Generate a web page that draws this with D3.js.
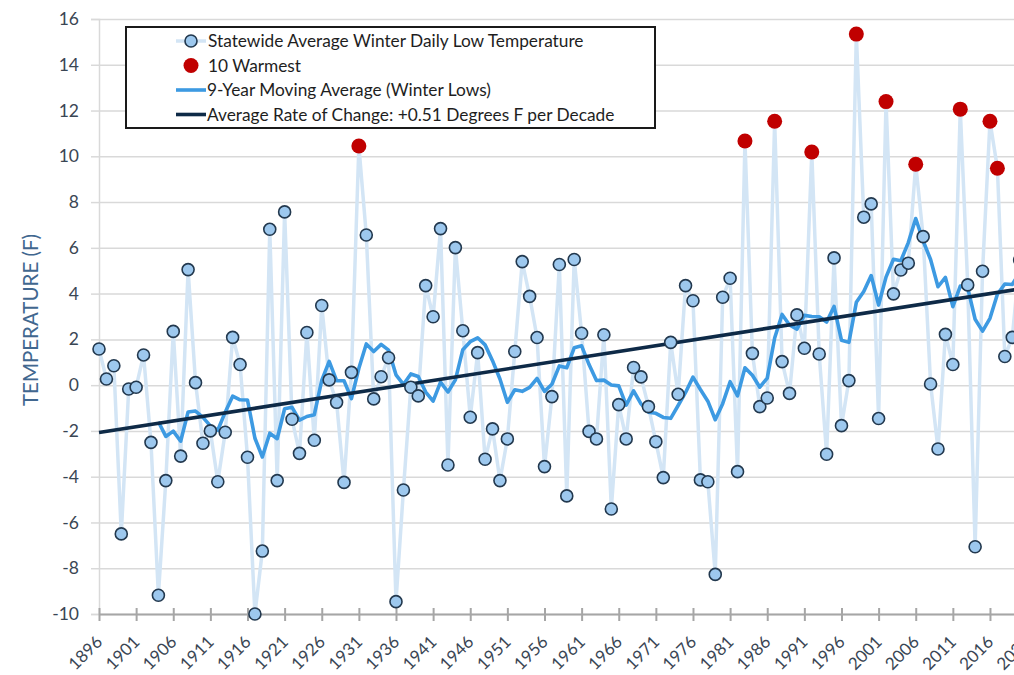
<!DOCTYPE html>
<html>
<head>
<meta charset="utf-8">
<script src="https://cdn.jsdelivr.net/npm/d3@7"></script>
<style>
  body { margin: 0; background: #fff; }
  svg { display: block; font-family: Lato, "Open Sans", sans-serif; }
</style>
</head>
<body>
<svg id="chart" width="1014" height="675"></svg>
<script>
// Winter seasons shown on the category axis
const firstYear = 1896;
const lastYear = 2020;
const years = d3.range(firstYear, lastYear + 1);

// Statewide average winter daily low temperature (°F), 1896–2020
const lowTemps = [
  1.58, 0.27, 0.85, -6.5, -0.17, -0.09, 1.32, -2.5, -9.18, -4.17,
  2.35, -3.1, 5.05, 0.11, -2.54, -2.0, -4.22, -2.06, 2.09, 0.9,
  -3.15, -10.0, -7.25, 6.81, -4.17, 7.57, -1.49, -2.98, 2.3, -2.41,
  3.48, 0.23, -0.75, -4.25, 0.56, 10.45, 6.56, -0.6, 0.37, 1.2,
  -9.46, -4.58, -0.09, -0.47, 4.35, 2.99, 6.84, -3.49, 6.01, 2.38,
  -1.4, 1.42, -3.24, -1.91, -4.17, -2.35, 1.47, 5.4, 3.88, 2.08,
  -3.56, -0.5, 5.27, -4.84, 5.49, 2.27, -2.02, -2.35, 2.2, -5.41,
  -0.85, -2.35, 0.77, 0.36, -0.94, -2.47, -4.04, 1.87, -0.4, 4.35,
  3.69, -4.14, -4.22, -8.27, 3.84, 4.67, -3.78, 10.67, 1.39, -0.94,
  -0.56, 11.53, 1.03, -0.36, 3.07, 1.61, 10.19, 1.36, -3.02, 5.56,
  -1.77, 0.2, 15.34, 7.34, 7.92, -1.46, 12.39, 3.99, 5.03, 5.33,
  9.65, 6.49, 0.05, -2.79, 2.22, 0.9, 12.06, 4.38, -7.06, 4.98,
  11.53, 9.48, 1.25, 2.09, 5.47
];

// 9-year moving average (winter lows), first plotted in 1904
const maStartYear = 1904;
const movingAvg = [
  -1.60, -2.24, -2.01, -2.45, -1.17, -1.13, -1.41, -1.78, -1.97, -1.18,
  -0.48, -0.64, -0.65, -2.32, -3.14, -2.10, -2.34, -1.03, -0.97, -1.53,
  -1.37, -1.29, 0.21, 1.04, 0.20, 0.19, -0.59, 0.74, 1.80, 1.47,
  1.78, 1.53, 0.45, 0.03, 0.49, 0.38, -0.30, -0.70, 0.13, -0.30,
  0.23, 1.55, 1.90, 2.07, 1.76, 1.07, 0.27, -0.75, -0.20, -0.27,
  -0.10, 0.29, -0.27, 0.04, 0.84, 0.76, 1.63, 1.72, 0.90, 0.20,
  0.22, 0.01, -0.03, -0.87, -0.25, -0.82, -1.18, -1.23, -1.41, -1.45,
  -0.89, -0.32, 0.35, -0.19, -0.70, -1.51, -0.81, 0.15, -0.47, 0.76,
  0.43, -0.09, 0.31, 2.06, 3.09, 2.63, 2.45, 3.05, 3.00, 2.99,
  2.76, 3.44, 1.96, 1.87, 3.62, 4.09, 4.79, 3.50, 4.72, 5.50,
  5.44, 6.23, 7.28, 6.30, 5.49, 4.30, 4.71, 3.43, 4.33, 4.25,
  2.88, 2.36, 2.92, 3.97, 4.42, 4.40, 4.91
];

// The ten warmest winters
const warmestYears = [1931, 1983, 1987, 1992, 1998, 2002, 2006, 2012, 2016, 2017];

// Linear trend: +0.51 °F per decade
const trendYears = [1896, 2020];
const trendValues = [-2.07, 4.2];

// Axis ticks
const yTicks = [-10, -8, -6, -4, -2, 0, 2, 4, 6, 8, 10, 12, 14, 16];
const xTickYears = [1896, 1901, 1906, 1911, 1916, 1921, 1926, 1931, 1936, 1941,
  1946, 1951, 1956, 1961, 1966, 1971, 1976, 1981, 1986, 1991, 1996, 2001,
  2006, 2011, 2016, 2021];

const legendLabels = [
  "Statewide Average Winter Daily Low Temperature",
  "10 Warmest",
  "9-Year Moving Average (Winter Lows)",
  "Average Rate of Change: +0.51 Degrees F per Decade"
];

const colors = {
  grid: "#d9d9d9",
  axis: "#a6a6a6",
  annual: "#d3e5f5",
  dotFill: "#9dc8ee",
  dotStroke: "#22384e",
  warm: "#c00000",
  avg: "#3d9ae2",
  trend: "#0e2a47",
  tickText: "#3a4654",
  axisTitle: "#41678f"
};

const svg = d3.select("#chart");

const x = d3.scaleLinear().domain([1896, 2021]).range([99, 1027.1]);
const y = d3.scaleLinear().domain([-10, 16]).range([614, 19]);

const plainNumber = d => String(d);

// Horizontal gridlines
svg.append("g")
  .attr("transform", `translate(${x(1896)},0)`)
  .call(d3.axisLeft(y).tickValues(yTicks).tickSize(-1000).tickFormat(""))
  .call(g => g.select(".domain").remove())
  .call(g => g.selectAll("line").attr("stroke", colors.grid).attr("stroke-width", 1.5));

// Left axis: short outward ticks + labels
svg.append("g")
  .attr("transform", `translate(${x(1896)},0)`)
  .call(d3.axisLeft(y).tickValues(yTicks).tickSize(8).tickPadding(12).tickFormat(plainNumber))
  .call(g => g.select(".domain").attr("stroke", colors.grid).attr("stroke-width", 1.5))
  .call(g => g.selectAll(".tick line").attr("stroke", colors.grid).attr("stroke-width", 1.5))
  .call(g => g.selectAll("text")
    .attr("fill", colors.tickText)
    .attr("font-size", 17.5)
    .attr("font-family", "Lato, sans-serif"));

// Bottom axis with rotated year labels
const xAxis = svg.append("g")
  .attr("transform", `translate(0,${y(-10)})`)
  .call(d3.axisBottom(x).tickValues(xTickYears).tickSize(0).tickFormat(plainNumber))
  .call(g => g.select(".domain").attr("stroke", colors.axis).attr("stroke-width", 2.2));
xAxis.selectAll(".tick line").remove();
xAxis.selectAll(".tick").append("line")
  .attr("y1", -6).attr("y2", 7)
  .attr("stroke", colors.axis).attr("stroke-width", 2);
xAxis.selectAll(".tick text")
  .attr("fill", colors.tickText)
  .attr("font-size", 17)
  .attr("font-family", "Lato, sans-serif")
  .attr("text-anchor", "end")
  .attr("dy", null)
  .attr("y", null)
  .attr("transform", "translate(4,29) rotate(-45)");

// Y axis title
svg.append("text")
  .attr("transform", `translate(37.5,320) rotate(-90)`)
  .attr("text-anchor", "middle")
  .attr("fill", colors.axisTitle)
  .attr("font-size", 20.5)
  .text("TEMPERATURE (F)");

const annual = years.map((yr, i) => ({ year: yr, value: lowTemps[i] }));
const avgPts = movingAvg.map((v, i) => ({ year: maStartYear + i, value: v }));
const trendPts = trendYears.map((yr, i) => ({ year: yr, value: trendValues[i] }));

const line = d3.line().x(d => x(d.year)).y(d => y(d.value));

// Annual series line
svg.append("path")
  .datum(annual)
  .attr("fill", "none")
  .attr("stroke", colors.annual)
  .attr("stroke-width", 3.5)
  .attr("stroke-linejoin", "round")
  .attr("d", line);

// Moving average
svg.append("path")
  .datum(avgPts)
  .attr("fill", "none")
  .attr("stroke", colors.avg)
  .attr("stroke-width", 3.6)
  .attr("stroke-linejoin", "round")
  .attr("d", line);

// Trend line
svg.append("path")
  .datum(trendPts)
  .attr("fill", "none")
  .attr("stroke", colors.trend)
  .attr("stroke-width", 3.6)
  .attr("d", line);

// Annual markers
svg.append("g")
  .selectAll("circle")
  .data(annual.filter(d => !warmestYears.includes(d.year)))
  .join("circle")
  .attr("cx", d => x(d.year))
  .attr("cy", d => y(d.value))
  .attr("r", 6)
  .attr("fill", colors.dotFill)
  .attr("stroke", colors.dotStroke)
  .attr("stroke-width", 1.6);

// Ten warmest markers
svg.append("g")
  .selectAll("circle")
  .data(annual.filter(d => warmestYears.includes(d.year)))
  .join("circle")
  .attr("cx", d => x(d.year))
  .attr("cy", d => y(d.value))
  .attr("r", 7.5)
  .attr("fill", colors.warm);

// Legend
const legend = svg.append("g");
legend.append("rect")
  .attr("x", 126).attr("y", 27)
  .attr("width", 529).attr("height", 101)
  .attr("fill", "#fff")
  .attr("stroke", "#1a1a1a")
  .attr("stroke-width", 2);

const rowY = [41, 65.5, 90, 114.5];
const sx0 = 176, sx1 = 206, tx = 207;

legend.append("line")
  .attr("x1", sx0).attr("x2", sx1).attr("y1", rowY[0]).attr("y2", rowY[0])
  .attr("stroke", colors.annual).attr("stroke-width", 3.5);
legend.append("circle")
  .attr("cx", 191).attr("cy", rowY[0]).attr("r", 6)
  .attr("fill", colors.dotFill).attr("stroke", colors.dotStroke).attr("stroke-width", 1.6);
legend.append("circle")
  .attr("cx", 191).attr("cy", rowY[1]).attr("r", 7.5)
  .attr("fill", colors.warm);
legend.append("line")
  .attr("x1", sx0).attr("x2", sx1).attr("y1", rowY[2]).attr("y2", rowY[2])
  .attr("stroke", colors.avg).attr("stroke-width", 3.6);
legend.append("line")
  .attr("x1", sx0).attr("x2", sx1).attr("y1", rowY[3]).attr("y2", rowY[3])
  .attr("stroke", colors.trend).attr("stroke-width", 3.6);

legend.selectAll("text.label")
  .data(legendLabels)
  .join("text")
  .attr("class", "label")
  .attr("x", (d, i) => i < 2 ? tx + 1 : tx)
  .attr("y", (d, i) => rowY[i])
  .attr("dy", "0.35em")
  .attr("fill", "#1e1e1e")
  .attr("font-size", 17.3)
  .text(d => d);
</script>
</body>
</html>
